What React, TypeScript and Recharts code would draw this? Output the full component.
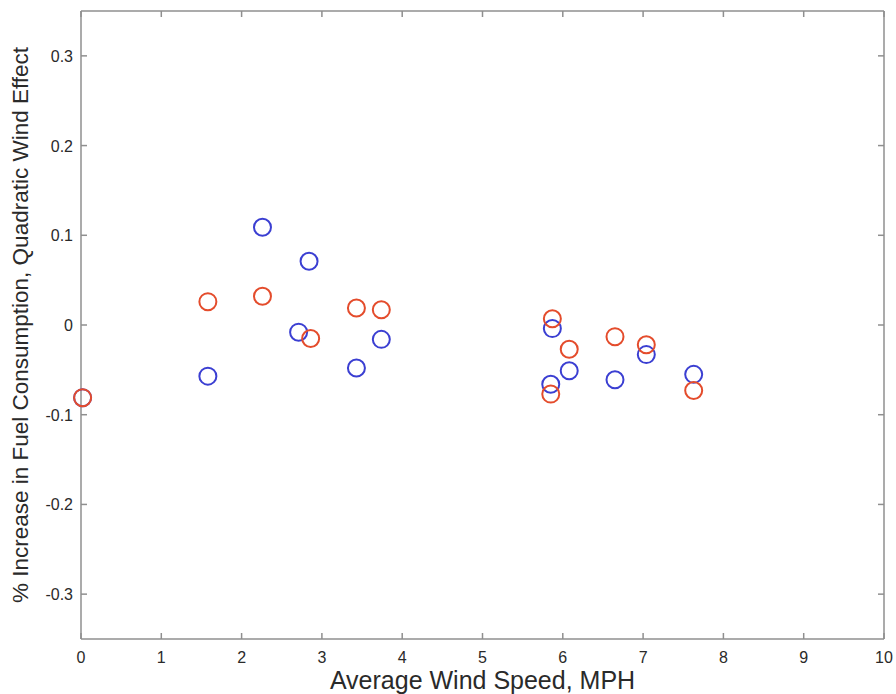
import { ScatterChart, Scatter, XAxis, YAxis } from "recharts"

// wind speed (MPH) and % increase in fuel consumption
const redSpeed = [0.02, 1.58, 2.26, 2.86, 3.43, 3.74, 5.87, 5.85, 6.08, 6.65, 7.04, 7.63]
const redEffect = [-0.081, 0.026, 0.032, -0.015, 0.019, 0.017, 0.007, -0.077, -0.027, -0.013, -0.022, -0.073]

const blueSpeed = [0.02, 1.58, 2.26, 2.84, 2.71, 3.43, 3.74, 5.87, 5.85, 6.08, 6.65, 7.04, 7.63]
const blueEffect = [-0.081, -0.057, 0.109, 0.071, -0.008, -0.048, -0.016, -0.004, -0.066, -0.051, -0.061, -0.033, -0.055]

const xTicks = [0, 1, 2, 3, 4, 5, 6, 7, 8, 9, 10]
const yTicks = [-0.3, -0.2, -0.1, 0, 0.1, 0.2, 0.3]

const redData = redSpeed.map((x, i) => ({ x, y: redEffect[i] }))
const blueData = blueSpeed.map((x, i) => ({ x, y: blueEffect[i] }))

const AXIS = "#8f8f8f"
const TXT = "#2a2a2a"
const FONT = "'Liberation Sans', Arial, sans-serif"

const ring = (color: string) => (props: any) =>
  <circle cx={props.cx} cy={props.cy} r={8.5} fill="none" stroke={color} strokeWidth={2} />

// matlab style: ticks point into the plot box
const BottomTick = ({ x, y, payload }: any) => (
  <g>
    <line x1={x} x2={x} y1={y} y2={y - 6} stroke={AXIS} strokeWidth={1.5} />
    <text x={x} y={y + 24} textAnchor="middle" fill={TXT} fontSize={16} fontFamily={FONT}>{payload.value}</text>
  </g>
)
const TopTick = ({ x, y }: any) => <line x1={x} x2={x} y1={y} y2={y + 6} stroke={AXIS} strokeWidth={1.5} />
const LeftTick = ({ x, y, payload }: any) => (
  <g>
    <line x1={x} x2={x + 6} y1={y} y2={y} stroke={AXIS} strokeWidth={1.5} />
    <text x={x - 8} y={y + 6} textAnchor="end" fill={TXT} fontSize={16} fontFamily={FONT}>{String(payload.value)}</text>
  </g>
)
const RightTick = ({ x, y }: any) => <line x1={x} x2={x - 6} y1={y} y2={y} stroke={AXIS} strokeWidth={1.5} />

export default function App() {
  return (
    <div style={{ position: "absolute", left: 0, top: 0, fontFamily: FONT }}>
      <ScatterChart width={896} height={694} margin={{ top: 10, right: 11, bottom: 0, left: 0 }}>
        <XAxis
          type="number"
          dataKey="x"
          xAxisId="b"
          domain={[0, 10]}
          ticks={xTicks}
          height={55}
          tickSize={0}
          tickMargin={0}
          tickLine={false}
          stroke={AXIS}
          strokeWidth={1.5}
          tick={BottomTick}
          label={{ value: "Average Wind Speed, MPH", position: "insideBottom", offset: 5, fill: TXT, fontSize: 25, fontFamily: FONT }}
        />
        <XAxis type="number" dataKey="x" xAxisId="t" orientation="top" domain={[0, 10]} ticks={xTicks} height={1}
          tickSize={0} tickMargin={0} tickLine={false} stroke={AXIS} strokeWidth={1.5} tick={TopTick} />
        <YAxis
          type="number"
          dataKey="y"
          yAxisId="l"
          domain={[-0.35, 0.35]}
          ticks={yTicks}
          width={81}
          tickSize={0}
          tickMargin={0}
          tickLine={false}
          stroke={AXIS}
          strokeWidth={1.5}
          tick={LeftTick}
          label={{ value: "% Increase in Fuel Consumption, Quadratic Wind Effect", angle: -90, position: "insideLeft", offset: 20, fill: TXT, fontSize: 22.5, fontFamily: FONT, style: { textAnchor: "middle" } }}
        />
        <YAxis type="number" dataKey="y" yAxisId="r" orientation="right" domain={[-0.35, 0.35]} ticks={yTicks} width={1}
          tickSize={0} tickMargin={0} tickLine={false} stroke={AXIS} strokeWidth={1.5} tick={RightTick} />
        <Scatter data={blueData} xAxisId="b" yAxisId="l" shape={ring("#3b3fd2")} isAnimationActive={false} />
        <Scatter data={redData} xAxisId="t" yAxisId="r" shape={ring("#e44c2c")} isAnimationActive={false} />
      </ScatterChart>
    </div>
  )
}
